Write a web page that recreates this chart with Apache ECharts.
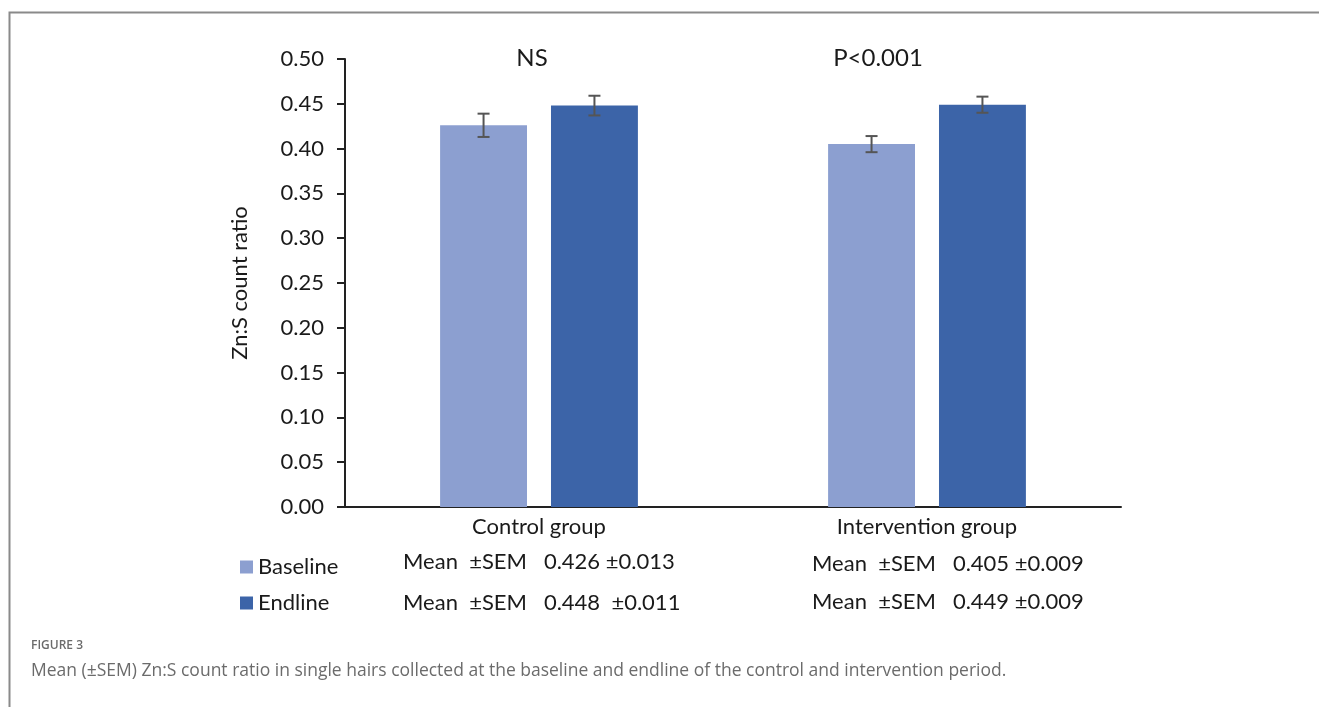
<!DOCTYPE html>
<html>
<head>
<meta charset="utf-8">
<script src="https://cdn.jsdelivr.net/npm/echarts@6/dist/echarts.min.js"></script>
<style>
  html, body { margin: 0; padding: 0; background: #fff; }
  #chart { width: 1319px; height: 707px; }
</style>
</head>
<body>
<div id="chart"></div>
<script>
// Data
const groups = ['Control group', 'Intervention group']
const seriesNames = ['Baseline', 'Endline']
const baselineMean = [0.426, 0.405]
const baselineSem = [0.013, 0.009]
const endlineMean = [0.448, 0.449]
const endlineSem = [0.011, 0.009]
const significance = ['NS', 'P<0.001']

const colors = { baseline: '#8c9fd0', endline: '#3c64a8', errbar: '#555555', text: '#1a1a1a' }
const chartFont = 'Lato'
const barWidthPct = 0.224
const barGapPct = 0.276

const chart = echarts.init(document.getElementById('chart'))

// Error bar drawn around each bar, offset left/right from category centre
const errorSeries = (means, sems, side) => ({
  type: 'custom',
  silent: true,
  z: 5,
  data: means.map((m, i) => [i, m, sems[i]]),
  renderItem: (params, api) => {
    const idx = api.value(0)
    const band = api.size([1, 0])[0]
    const off = side * band * barWidthPct * (1 + barGapPct) / 2
    const hi = api.coord([idx, api.value(1) + api.value(2)])
    const lo = api.coord([idx, api.value(1) - api.value(2)])
    const x = hi[0] + off
    const cap = 6
    const style = { stroke: colors.errbar, lineWidth: 2 }
    return {
      type: 'group',
      children: [
        { type: 'line', shape: { x1: x, y1: hi[1], x2: x, y2: lo[1] }, style },
        { type: 'line', shape: { x1: x - cap, y1: hi[1], x2: x + cap, y2: hi[1] }, style },
        { type: 'line', shape: { x1: x - cap, y1: lo[1], x2: x + cap, y2: lo[1] }, style }
      ]
    }
  }
})

// Significance labels above each group
const sigSeries = {
  type: 'custom',
  silent: true,
  data: significance.map((s, i) => [i, 0.5]),
  renderItem: (params, api) => {
    const p = api.coord([api.value(0), api.value(1)])
    const shift = params.dataIndex === 0 ? -7 : -49
    return {
      type: 'text',
      style: {
        x: p[0] + shift, y: p[1] - 1,
        text: significance[params.dataIndex],
        font: '24px ' + chartFont,
        fill: colors.text,
        align: 'center', verticalAlign: 'middle'
      }
    }
  }
}

const statText = (mean, sem, x, y, pad) => ({
  type: 'text',
  left: x, top: y,
  style: {
    text: 'Mean  \u00b1SEM   ' + mean.toFixed(3) + pad + '\u00b1' + sem.toFixed(3),
    font: '22px ' + chartFont,
    fill: colors.text
  }
})

const option = {
  animation: false,
  backgroundColor: '#ffffff',
  textStyle: { fontFamily: chartFont },
  grid: { left: 345, right: 198, top: 59, bottom: 200 },
  legend: {
    orient: 'vertical',
    left: 235, top: 551,
    itemWidth: 13, itemHeight: 13,
    itemGap: 14,
    icon: 'rect',
    data: seriesNames,
    textStyle: { fontSize: 22, color: colors.text, fontFamily: chartFont }
  },
  xAxis: {
    type: 'category',
    data: groups,
    axisLine: { lineStyle: { color: '#222', width: 2 } },
    axisTick: { show: false },
    axisLabel: { fontSize: 22, color: colors.text, margin: 9 }
  },
  yAxis: {
    type: 'value',
    min: 0, max: 0.5, interval: 0.05,
    name: 'Zn:S count ratio',
    nameLocation: 'middle',
    nameRotate: 90,
    nameGap: 94,
    nameTextStyle: { fontSize: 22, color: colors.text },
    axisLine: { show: true, lineStyle: { color: '#222', width: 2 } },
    axisTick: { show: true, length: 8, lineStyle: { color: '#222', width: 2 } },
    axisLabel: { fontSize: 22, color: colors.text, margin: 21, formatter: v => v.toFixed(2) },
    splitLine: { show: false }
  },
  series: [
    { name: 'Baseline', type: 'bar', data: baselineMean, barWidth: (barWidthPct * 100) + '%', barGap: (barGapPct * 100) + '%', itemStyle: { color: colors.baseline } },
    { name: 'Endline', type: 'bar', data: endlineMean, barWidth: (barWidthPct * 100) + '%', barGap: (barGapPct * 100) + '%', itemStyle: { color: colors.endline } },
    errorSeries(baselineMean, baselineSem, -1),
    errorSeries(endlineMean, endlineSem, 1),
    sigSeries
  ],
  graphic: [
    // figure frame
    { type: 'polyline', shape: { points: [[9.5, 707], [9.5, 12.5], [1319, 12.5]] }, style: { stroke: '#8a8a8a', lineWidth: 2, fill: null } },
    statText(baselineMean[0], baselineSem[0], 403, 551, ' '),
    statText(endlineMean[0], endlineSem[0], 403, 592, '  '),
    statText(baselineMean[1], baselineSem[1], 812, 553, ' '),
    statText(endlineMean[1], endlineSem[1], 812, 591, ' '),
    { type: 'text', left: 31, top: 640, style: { text: 'FIGURE 3', font: '600 12px "Open Sans"', fill: '#6b6b6b' } },
    { type: 'text', left: 31, top: 662, style: { text: 'Mean (\u00b1SEM) Zn:S count ratio in single hairs collected at the baseline and endline of the control and intervention period.', font: '17.5px "Open Sans"', fill: '#6b6b6b' } }
  ]
}

chart.setOption(option)
</script>
</body>
</html>
